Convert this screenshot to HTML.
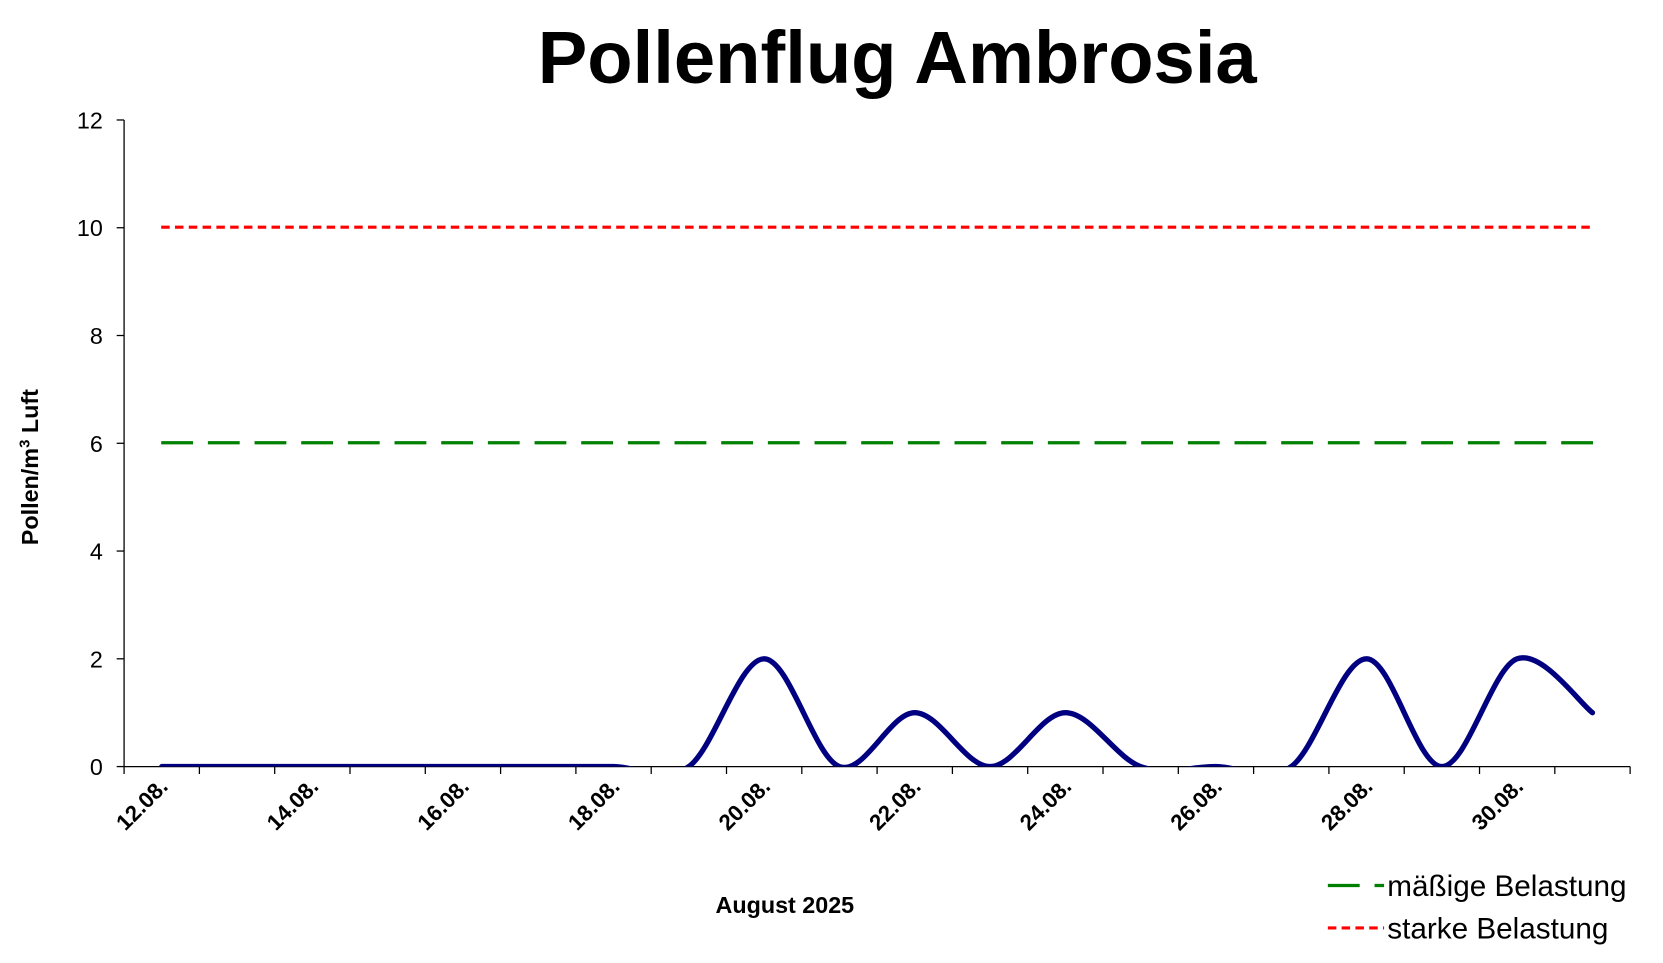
<!DOCTYPE html>
<html><head><meta charset="utf-8"><style>
html,body{margin:0;padding:0;background:#fff;}
svg{display:block;}
text{font-family:"Liberation Sans",Arial,sans-serif;}
</style></head><body>
<svg width="1663" height="963" viewBox="0 0 1568 907" preserveAspectRatio="none" xmlns="http://www.w3.org/2000/svg">
<text x="846" y="78" font-size="70" font-weight="bold" text-anchor="middle">Pollenflug Ambrosia</text>
<defs><clipPath id="c"><rect x="117" y="100" width="1420" height="622"/></clipPath></defs>
<g id="ax" stroke="#000" stroke-width="1.2">
<line x1="117" y1="113" x2="117" y2="722"/>
<line x1="117" y1="722" x2="1537" y2="722"/>
</g>
<g id="yt" font-size="22" text-anchor="end"></g>
<g id="xt" font-size="21" font-weight="bold"></g>
<line x1="152" y1="214" x2="1502" y2="214" stroke="#f00" stroke-width="3" stroke-dasharray="8,5"/>
<line x1="152" y1="417" x2="1502" y2="417" stroke="#008000" stroke-width="3" stroke-dasharray="30,14"/>
<path id="curve" clip-path="url(#c)" fill="none" stroke="#000080" stroke-width="5" stroke-linecap="round" stroke-linejoin="round"/>
<text transform="translate(36,440) rotate(-90)" font-size="22" font-weight="bold" text-anchor="middle">Pollen/m<tspan font-size="14" dy="-8">3</tspan><tspan dy="8"> Luft</tspan></text>
<text x="740" y="860" font-size="22" font-weight="bold" text-anchor="middle">August 2025</text>
<line x1="1252" y1="834" x2="1305" y2="834" stroke="#008000" stroke-width="3" stroke-dasharray="30,14"/>
<text x="1308" y="844" font-size="28">mäßige Belastung</text>
<line x1="1252" y1="874" x2="1305" y2="874" stroke="#f00" stroke-width="3" stroke-dasharray="8,5"/>
<text x="1308" y="884" font-size="28">starke Belastung</text>
</svg>
<script>
var NS="http://www.w3.org/2000/svg";
function el(t,a,p,txt){var e=document.createElementNS(NS,t);for(var k in a)e.setAttribute(k,a[k]);if(txt!=null)e.textContent=txt;p.appendChild(e);return e;}
var ax=document.getElementById('ax'),yt=document.getElementById('yt'),xt=document.getElementById('xt');
for(var v=0;v<=12;v+=2){var y=722-50.75*v;el('line',{x1:110,y1:y,x2:117,y2:y},ax);el('text',{x:97,y:y+8},yt,String(v));}
for(var i=0;i<=20;i++){var x=117+71*i;el('line',{x1:x,y1:722,x2:x,y2:729},ax);}
for(var d=12;d<=30;d+=2){var i=d-12,x=152.5+71*i;el('text',{transform:'translate('+(x+7)+',742) rotate(-45)','text-anchor':'end'},xt,d+'.08.');}
var vals=[0,0,0,0,0,0,0,0,2,0,1,0,1,0,0,0,2,0,2,1];
var P=vals.map(function(v,i){return [152.5+71*i,722-50.75*v];});
var d='M'+P[0][0]+','+P[0][1];
for(var i=0;i<P.length-1;i++){var p0=P[Math.max(i-1,0)],p1=P[i],p2=P[i+1],p3=P[Math.min(i+2,P.length-1)];
var c1=[p1[0]+(p2[0]-p0[0])/6,p1[1]+(p2[1]-p0[1])/6],c2=[p2[0]-(p3[0]-p1[0])/6,p2[1]-(p3[1]-p1[1])/6];
d+=' C'+c1+' '+c2+' '+p2;}
document.getElementById('curve').setAttribute('d',d);
</script>
</body></html>
